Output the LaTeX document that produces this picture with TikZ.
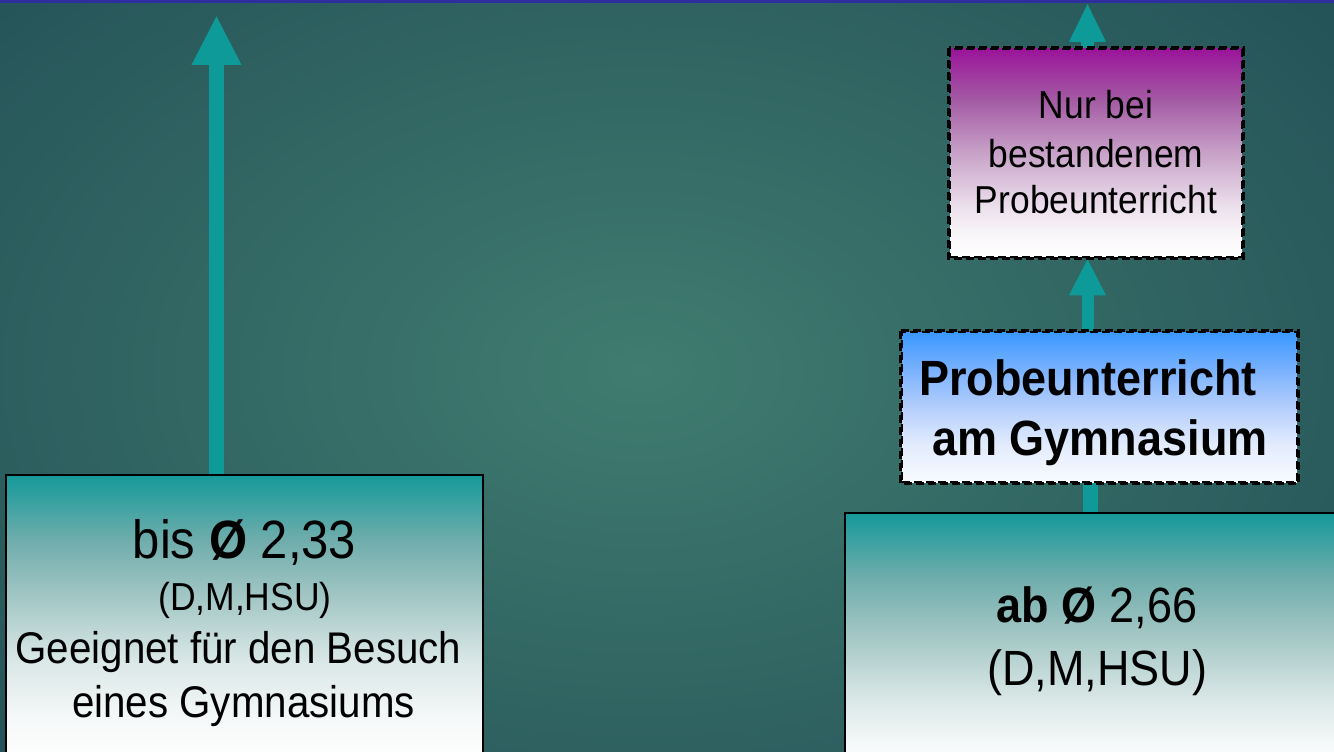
\documentclass[tikz,border=0pt]{standalone}
\usepackage{fontspec}
\setmainfont{Liberation Sans}
\usetikzlibrary{arrows.meta}
\definecolor{bgin}{HTML}{407C70}
\definecolor{bgout}{HTML}{1F4B53}
\definecolor{tealtop}{HTML}{15999A}
\definecolor{tA}{HTML}{6FADAC}
\definecolor{tB}{HTML}{A5C8C6}
\definecolor{tC}{HTML}{D9E7E6}
\definecolor{tD}{HTML}{F6F9F9}
\definecolor{arrowc}{HTML}{0E9A98}
\definecolor{purp}{HTML}{9A149A}
\definecolor{pA}{HTML}{A45CA4}
\definecolor{pB}{HTML}{C8A2C8}
\definecolor{pC}{HTML}{EBDEEB}
\definecolor{pD}{HTML}{F8F5F8}
\definecolor{bluec}{HTML}{3A98FF}
\definecolor{bA}{HTML}{7AB2FE}
\definecolor{bB}{HTML}{B4CEFC}
\definecolor{bC}{HTML}{E3ECFD}
\definecolor{bD}{HTML}{F8FAFF}
\definecolor{topline}{HTML}{2E2E9E}
\pgfdeclareverticalshading{lfade}{100bp}{color(0bp)=(white); color(25bp)=(white);
  color(33.5bp)=(tD); color(43.6bp)=(tC); color(53.8bp)=(tB); color(64bp)=(tA);
  color(75bp)=(tealtop); color(100bp)=(tealtop)}
\pgfdeclareverticalshading{rfade}{100bp}{color(0bp)=(white); color(25bp)=(white);
  color(29.9bp)=(tD); color(39bp)=(tC); color(50.7bp)=(tB); color(62.4bp)=(tA);
  color(75bp)=(tealtop); color(100bp)=(tealtop)}
\pgfdeclareverticalshading{pfade}{100bp}{color(0bp)=(white); color(25bp)=(white);
  color(31bp)=(pD); color(37.5bp)=(pC); color(50bp)=(pB); color(62.5bp)=(pA);
  color(75bp)=(purp); color(100bp)=(purp)}
\pgfdeclareverticalshading{bfade}{100bp}{color(0bp)=(bD); color(25bp)=(bD);
  color(37.3bp)=(bC); color(50bp)=(bB); color(62.3bp)=(bA);
  color(75bp)=(bluec); color(100bp)=(bluec)}
\newcommand{\fsz}[1]{\fontsize{#1}{#1}\selectfont}
\newcommand{\vst}[1]{\scalebox{1}[1.1]{#1}}
\begin{document}
\begin{tikzpicture}[x=1pt,y=-1pt,
  gradbox/.style={draw=black, line width=1.5pt, rectangle, inner sep=0pt},
  dashbox/.style={draw=black, line width=2.6pt, dash pattern=on 8pt off 4pt,
    rectangle, inner sep=0pt},
  txt/.style={anchor=base, inner sep=0pt, text=black},
  conn/.style={draw=arrowc, line width=15pt},
  bigtip/.style={-{Triangle[width=46pt,length=50pt]}},
  smalltip/.style={-{Triangle[width=34pt,length=37pt]}}
]
\useasboundingbox (0,0) rectangle (1334,752);
\clip (0,0) rectangle (1334,752);
% background
\shade[inner color=bgin, outer color=bgout] (-420,-320) rectangle (1700,1060);
\fill[topline] (0,0) rectangle (1334,3);

% coordinates for connector columns
\coordinate (ltip) at (216.5,15);
\coordinate (rcol) at (1090.5,0);
\coordinate (mcol) at (1087.5,0);
\coordinate (ttip) at (1087.5,3);

% boxes
\node[gradbox, shading=lfade, minimum width=477pt, minimum height=295pt] (lbox) at (244.5,622.5) {};
\node[gradbox, shading=rfade, minimum width=500pt, minimum height=257pt] (rbox) at (1095,641.5) {};

% connectors (drawn before the dashed boxes)
\draw[conn, bigtip] (lbox.north -| ltip) -- (ltip);
\draw[conn] (rbox.north -| rcol) -- ++(0,-40);

\node[dashbox, shading=bfade, minimum width=395pt, minimum height=150pt] (bbox) at (1099.5,407) {};
\node[dashbox, shading=pfade, minimum width=292pt, minimum height=208pt] (pbox) at (1096,153) {};

\draw[conn, line width=12pt, smalltip] (bbox.north -| mcol) -- (pbox.south -| mcol);
\draw[conn, line width=13pt, -{Triangle[width=34pt,length=39pt]}] (pbox.north -| ttip) -- (ttip);
\draw[dashbox] (bbox.north west) rectangle (bbox.south east);
\draw[dashbox] (pbox.north west) rectangle (pbox.south east);

% texts left box
\node[txt] (l1) at (244.5,558) {\vst{\fsz{49}bis \textbf{Ø} 2,33}};
\node[txt] (l2) at (245,610) {\vst{\fsz{35.5}(D,M,HSU)}};
\node[txt] (l3) at (238.5,663) {\vst{\fsz{40.3}Geeignet für den Besuch}};
\node[txt] (l4) at (243.5,717) {\vst{\fsz{40.3}eines Gymnasiums}};

% texts right box
\node[txt] (r1) at (1097,622) {\vst{\fsz{45}\textbf{ab Ø} 2,66}};
\node[txt] (r2) at (1097,685) {\vst{\fsz{45}(D,M,HSU)}};

% texts blue box
\node[txt] (b1) at (1088,395) {\vst{\fsz{45}\textbf{Probeunterricht}}};
\node[txt] (b2) at (1100,455) {\vst{\fsz{45}\textbf{am Gymnasium}}};

% texts purple box
\node[txt] (p1) at (1096,118) {\vst{\fsz{35.4}Nur bei}};
\node[txt] (p2) at (1096,167) {\vst{\fsz{35.4}bestandenem}};
\node[txt] (p3) at (1096,213) {\vst{\fsz{35.4}Probeunterricht}};
\end{tikzpicture}
\end{document}
